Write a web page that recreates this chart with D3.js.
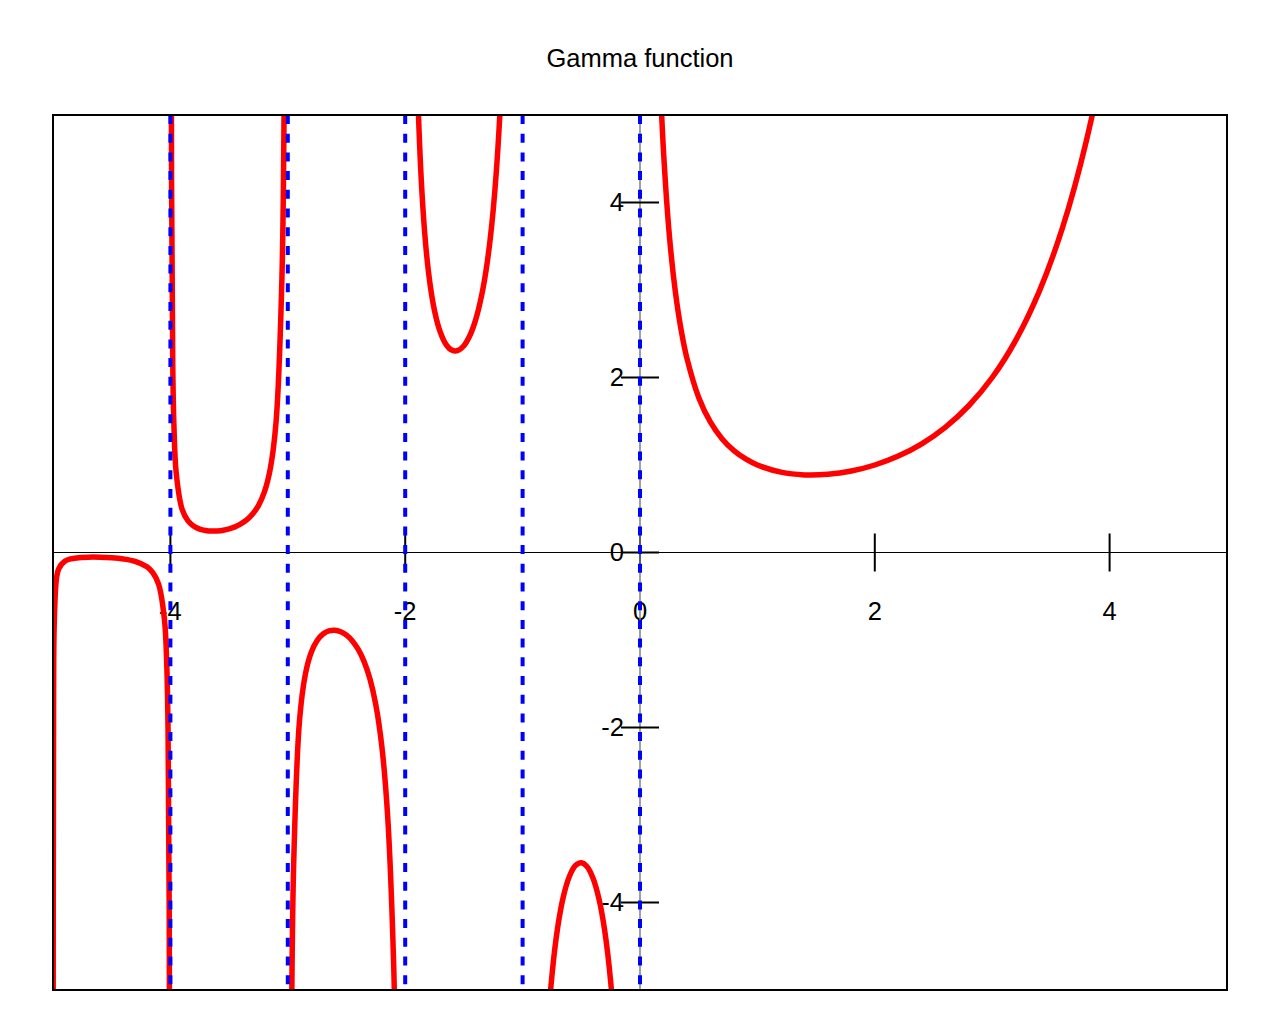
<!DOCTYPE html>
<html>
<head>
<meta charset="utf-8">
<script src="https://cdn.jsdelivr.net/npm/d3@7"></script>
<style>
  body { margin: 0; background: #fff; }
  svg { font-family: "Liberation Sans", Arial, sans-serif; }
</style>
</head>
<body>
<div id="chart"></div>
<script>
// Values, one list per branch of the curve
const branch1 = [ // between -5 and -4
  [-4.999, -8.4], [-4.998, -4.2], [-4.995, -1.70], [-4.99, -0.848], [-4.97, -0.293],
  [-4.95, -0.182], [-4.9, -0.100], [-4.85, -0.074], [-4.8, -0.062], [-4.7, -0.0535],
  [-4.6, -0.0537], [-4.5, -0.060], [-4.4, -0.074], [-4.3, -0.102], [-4.2, -0.164],
  [-4.15, -0.230], [-4.1, -0.364], [-4.05, -0.776], [-4.03, -1.329], [-4.02, -2.023],
  [-4.01, -4.105], [-4.005, -8.3]
];
const branch2 = [ // between -4 and -3
  [-3.995, 8.4], [-3.99, 4.231], [-3.98, 2.148], [-3.97, 1.455], [-3.95, 0.902],
  [-3.9, 0.492], [-3.85, 0.361], [-3.8, 0.300], [-3.75, 0.268], [-3.7, 0.252],
  [-3.65, 0.245], [-3.6, 0.247], [-3.55, 0.255], [-3.5, 0.270], [-3.45, 0.293],
  [-3.4, 0.326], [-3.35, 0.372], [-3.3, 0.439], [-3.25, 0.536], [-3.2, 0.689],
  [-3.15, 0.952], [-3.1, 1.492], [-3.05, 3.142], [-3.03, 5.357], [-3.02, 8.13]
];
const branch3 = [ // between -3 and -2
  [-2.98, -8.55], [-2.97, -5.777], [-2.95, -3.563], [-2.9, -1.918], [-2.85, -1.388],
  [-2.8, -1.139], [-2.75, -1.005], [-2.7, -0.931], [-2.65, -0.896], [-2.6, -0.889],
  [-2.55, -0.905], [-2.5, -0.945], [-2.45, -1.011], [-2.4, -1.108], [-2.35, -1.247],
  [-2.3, -1.447], [-2.25, -1.743], [-2.2, -2.205], [-2.15, -3.000], [-2.1, -4.626],
  [-2.07, -6.746], [-2.05, -9.584]
];
const branch4 = [ // between -2 and -1
  [-1.95, 10.51], [-1.9, 5.563], [-1.85, 3.956], [-1.8, 3.188], [-1.75, 2.762],
  [-1.7, 2.514], [-1.65, 2.374], [-1.6, 2.311], [-1.55, 2.309], [-1.5, 2.363],
  [-1.45, 2.477], [-1.4, 2.659], [-1.35, 2.931], [-1.3, 3.328], [-1.25, 3.921],
  [-1.2, 4.851], [-1.15, 6.449], [-1.1, 9.715]
];
const branch5 = [ // between -1 and 0
  [-0.9, -10.571], [-0.85, -7.318], [-0.8, -5.739], [-0.75, -4.834], [-0.7, -4.274],
  [-0.65, -3.917], [-0.6, -3.697], [-0.55, -3.578], [-0.5, -3.545], [-0.45, -3.591],
  [-0.4, -3.723], [-0.35, -3.957], [-0.3, -4.327], [-0.25, -4.902], [-0.2, -5.821],
  [-0.15, -7.417], [-0.1, -10.686]
];
const branch6 = [ // right of 0
  [0.1, 9.514], [0.12, 7.867], [0.15, 6.220], [0.17, 5.453], [0.2, 4.591],
  [0.25, 3.626], [0.3, 2.992], [0.35, 2.546], [0.4, 2.218], [0.5, 1.772],
  [0.6, 1.489], [0.7, 1.298], [0.8, 1.164], [0.9, 1.069], [1.0, 1.0],
  [1.2, 0.918], [1.4, 0.887], [1.6, 0.894], [1.8, 0.931], [2.0, 1.0],
  [2.2, 1.102], [2.4, 1.242], [2.6, 1.430], [2.8, 1.677], [3.0, 2.0],
  [3.2, 2.424], [3.4, 2.981], [3.6, 3.717], [3.8, 4.694], [4.0, 6.0], [4.2, 7.757]
];
const branches = [branch1, branch2, branch3, branch4, branch5, branch6];
const poles = [-4, -3, -2, -1, 0];
const xTicks = [-4, -2, 0, 2, 4];
const yTicks = [-4, -2, 0, 2, 4];
const xDomain = [-5, 5];
const yDomain = [-5, 5];

const totalWidth = 1280, totalHeight = 1024;
const margin = {top: 115, right: 53, bottom: 34, left: 53};
const fontSize = "25.5px";

const svg = d3.select("#chart")
    .append("svg")
    .attr("width", totalWidth)
    .attr("height", totalHeight);

const x = d3.scaleLinear(xDomain, [margin.left, totalWidth - margin.right]);
const y = d3.scaleLinear(yDomain, [totalHeight - margin.bottom, margin.top]);

svg.append("defs").append("clipPath")
    .attr("id", "plot-clip")
    .append("rect")
    .attr("x", x(xDomain[0]))
    .attr("y", y(yDomain[1]))
    .attr("width", x(xDomain[1]) - x(xDomain[0]))
    .attr("height", y(yDomain[0]) - y(yDomain[1]));

// Title
svg.append("text")
    .attr("x", totalWidth / 2)
    .attr("y", 67)
    .attr("text-anchor", "middle")
    .style("font-size", fontSize)
    .text("Gamma function");

// x axis through y = 0
const xAxis = svg.append("g")
    .attr("transform", `translate(0,${y(0)})`)
    .call(d3.axisBottom(x).tickValues(xTicks).tickSize(19).tickSizeOuter(0)
        .offset(0).tickFormat(d => String(d)));
xAxis.select(".domain").attr("stroke", "#000").attr("stroke-width", 1.2);
xAxis.selectAll(".tick line").attr("y1", -19).attr("stroke-width", 2);
xAxis.selectAll(".tick text")
    .attr("y", 67).attr("dy", 0)
    .style("font-size", fontSize)
    .attr("fill", "#000");

// y axis through x = 0
const yAxis = svg.append("g")
    .attr("transform", `translate(${x(0)},0)`)
    .call(d3.axisLeft(y).tickValues(yTicks).tickSize(19).tickSizeOuter(0)
        .offset(0).tickFormat(d => String(d)));
yAxis.select(".domain").attr("stroke", "#808080").attr("stroke-width", 1.5);
yAxis.selectAll(".tick line").attr("x1", 19).attr("stroke-width", 2);
yAxis.selectAll(".tick text")
    .attr("x", -16).attr("dy", "0.35em")
    .style("font-size", fontSize)
    .attr("fill", "#000");
svg.selectAll(".tick text").attr("font-family", null);

// Curve branches
const line = d3.line()
    .x(d => x(d[0]))
    .y(d => y(d[1]))
    .curve(d3.curveCatmullRom.alpha(0.5));

svg.append("g")
    .attr("clip-path", "url(#plot-clip)")
    .selectAll("path")
    .data(branches)
    .join("path")
    .attr("d", line)
    .attr("fill", "none")
    .attr("stroke", "#ff0000")
    .attr("stroke-width", 5.5)
    .attr("stroke-linejoin", "round");

// Asymptotes
svg.append("g")
    .selectAll("line")
    .data(poles)
    .join("line")
    .attr("x1", d => x(d))
    .attr("x2", d => x(d))
    .attr("y1", y(yDomain[1]))
    .attr("y2", y(yDomain[0]))
    .attr("stroke", "#0000ff")
    .attr("stroke-width", 4)
    .attr("stroke-dasharray", "9,9.7");

// Frame
svg.append("rect")
    .attr("x", x(xDomain[0]))
    .attr("y", y(yDomain[1]))
    .attr("width", x(xDomain[1]) - x(xDomain[0]))
    .attr("height", y(yDomain[0]) - y(yDomain[1]))
    .attr("fill", "none")
    .attr("stroke", "#000")
    .attr("stroke-width", 2);
</script>
</body>
</html>
